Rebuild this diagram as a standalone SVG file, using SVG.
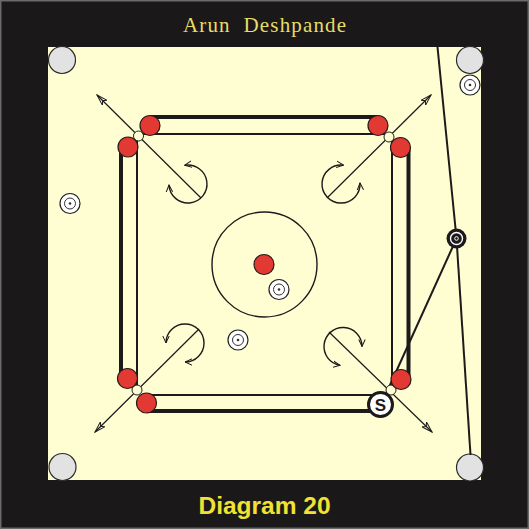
<svg xmlns="http://www.w3.org/2000/svg" width="529" height="529" viewBox="0 0 529 529">
<style>
.pocket{fill:#e2e2e2;stroke:#2a2a2a;stroke-width:1.2}
.red{fill:#e23a32;stroke:#2a1a1a;stroke-width:1.2}
.junc{fill:#fffdd2;stroke:#222;stroke-width:1}
.thick{stroke:#1c1a1a;stroke-width:4;fill:none}
.thin{stroke:#1c1a1a;stroke-width:2;fill:none}
.diag{stroke:#1c1a1a;stroke-width:1.2;fill:none}
.arc{stroke:#1c1a1a;stroke-width:1.4;fill:none}
.path{stroke:#1c1a1a;stroke-width:2;fill:none}
.coin{fill:#ffffff;stroke:#222;stroke-width:1.2}
.ring{fill:none;stroke:#333;stroke-width:1}
</style>
<defs>
<marker id="arr" viewBox="0 0 12 8" refX="11" refY="4" markerWidth="12" markerHeight="8" markerUnits="userSpaceOnUse" orient="auto">
<path d="M0,0.6 L11,4 L0,7.4 L3,4 Z" fill="none" stroke="#1c1a1a" stroke-width="1"/>
</marker>
<marker id="barb" viewBox="0 0 8 8" refX="7" refY="4" markerWidth="8" markerHeight="8" markerUnits="userSpaceOnUse" orient="auto-start-reverse">
<path d="M0,0.8 L7,4 L0,7.2" fill="none" stroke="#1c1a1a" stroke-width="1"/>
</marker>
</defs>
<rect x="0" y="0" width="529" height="529" fill="#1a1818"/>
<rect x="0.75" y="0.75" width="527.5" height="527.5" fill="none" stroke="#6a6a6a" stroke-width="1.5"/>
<rect id="board" x="48" y="47" width="433" height="433" fill="#fffdd2"/>
<text x="264.5" y="32" font-family="Liberation Serif, serif" font-size="21" fill="#e6dd6a" text-anchor="middle" textLength="163" xml:space="preserve">Arun  Deshpande</text>
<text x="264.5" y="514" font-family="Liberation Sans, Arial, sans-serif" font-size="24.5" font-weight="bold" fill="#f0e232" text-anchor="middle">Diagram 20</text>

<g id="pockets">
<circle class="pocket" cx="62" cy="60" r="13.5"/>
<circle class="pocket" cx="470" cy="60" r="13.5"/>
<circle class="pocket" cx="62.5" cy="467" r="13.5"/>
<circle class="pocket" cx="470" cy="467.5" r="13.5"/>
</g>
<circle id="center-circle" cx="264.5" cy="264.5" r="52.5" fill="none" stroke="#1c1a1a" stroke-width="1.4"/>

<g id="connectors">
<!-- baselines -->
<line class="thick" x1="150" y1="117" x2="378" y2="117"/>
<line class="thin" x1="142" y1="134" x2="385" y2="134"/>
<line class="thick" x1="121" y1="147" x2="121" y2="379"/>
<line class="thin" x1="137" y1="140" x2="137" y2="386"/>
<line class="thick" x1="408.5" y1="147" x2="408.5" y2="380"/>
<line class="thin" x1="392" y1="141" x2="392" y2="386"/>
<line class="thick" x1="146" y1="411" x2="381" y2="411"/>
<line class="thin" x1="141" y1="395" x2="386" y2="395"/>
<!-- diagonals -->
<line class="diag" x1="201" y1="198" x2="97" y2="95" marker-end="url(#arr)"/>
<line class="diag" x1="327" y1="198" x2="431" y2="95" marker-end="url(#arr)"/>
<line class="diag" x1="199" y1="329" x2="95" y2="432" marker-end="url(#arr)"/>
<line class="diag" x1="329" y1="332" x2="432" y2="432" marker-end="url(#arr)"/>
<!-- rotation arcs -->
<path class="arc" d="M184.7,165.3 A19,19 0 1 1 169,185" marker-start="url(#barb)" marker-end="url(#barb)"/>
<path class="arc" d="M343.5,165.2 A19,19 0 1 0 360,183" marker-start="url(#barb)" marker-end="url(#barb)"/>
<path class="arc" d="M166,343 A19,19 0 1 1 185,362" marker-start="url(#barb)" marker-end="url(#barb)"/>
<path class="arc" d="M340,365.3 A19,19 0 1 1 362,346.5" marker-start="url(#barb)" marker-end="url(#barb)"/>
<!-- striker paths -->
<line class="path" x1="437.5" y1="47" x2="456.5" y2="238.5"/>
<line class="path" x1="456.5" y1="238.5" x2="470.5" y2="455"/>
<line class="path" x1="456.5" y1="238.5" x2="386" y2="394"/>
</g>

<g id="junctions">
<circle class="junc" cx="138.5" cy="136" r="5"/>
<circle class="junc" cx="389" cy="137" r="5"/>
<circle class="junc" cx="137" cy="390" r="5"/>
<circle class="junc" cx="391" cy="390" r="5"/>
</g>
<g id="red-coins">
<circle class="red" cx="150" cy="125.5" r="10"/>
<circle class="red" cx="128" cy="147" r="10"/>
<circle class="red" cx="378" cy="125.5" r="10"/>
<circle class="red" cx="400.5" cy="147.5" r="10"/>
<circle class="red" cx="127.5" cy="378.5" r="10"/>
<circle class="red" cx="146.5" cy="403" r="10"/>
<circle class="red" cx="401" cy="379.5" r="10"/>
<circle class="red" cx="264" cy="264.5" r="10"/>
</g>
<g id="white-coins">
<g id="coin-tr"><circle class="coin" cx="470" cy="85" r="10"/><circle class="ring" cx="470" cy="85" r="5.5"/><circle fill="#333" cx="470" cy="85" r="1.3"/></g>
<g id="coin-left"><circle class="coin" cx="70" cy="203.5" r="10"/><circle class="ring" cx="70" cy="203.5" r="5.5"/><circle fill="#333" cx="70" cy="203.5" r="1.3"/></g>
<g id="coin-center"><circle class="coin" cx="279" cy="289.5" r="10"/><circle class="ring" cx="279" cy="289.5" r="5.5"/><circle fill="#333" cx="279" cy="289.5" r="1.3"/></g>
<g id="coin-low"><circle class="coin" cx="238" cy="340" r="10"/><circle class="ring" cx="238" cy="340" r="5.5"/><circle fill="#333" cx="238" cy="340" r="1.3"/></g>
</g>
<g id="black-striker">
<circle cx="456.5" cy="238.5" r="10" fill="#1c1a1a"/>
<circle cx="456.5" cy="238.5" r="6" fill="none" stroke="#fff" stroke-width="1.4"/>
<circle cx="456.5" cy="238.5" r="1.8" fill="none" stroke="#fff" stroke-width="1"/>
</g>
<g id="striker-s">
<circle cx="380.5" cy="404.5" r="12" fill="#fff" stroke="#1c1a1a" stroke-width="3"/>
<text x="380.5" y="410.5" font-family="Liberation Sans, Arial, sans-serif" font-size="17" font-weight="bold" fill="#1c1a1a" text-anchor="middle">S</text>
</g>
</svg>
